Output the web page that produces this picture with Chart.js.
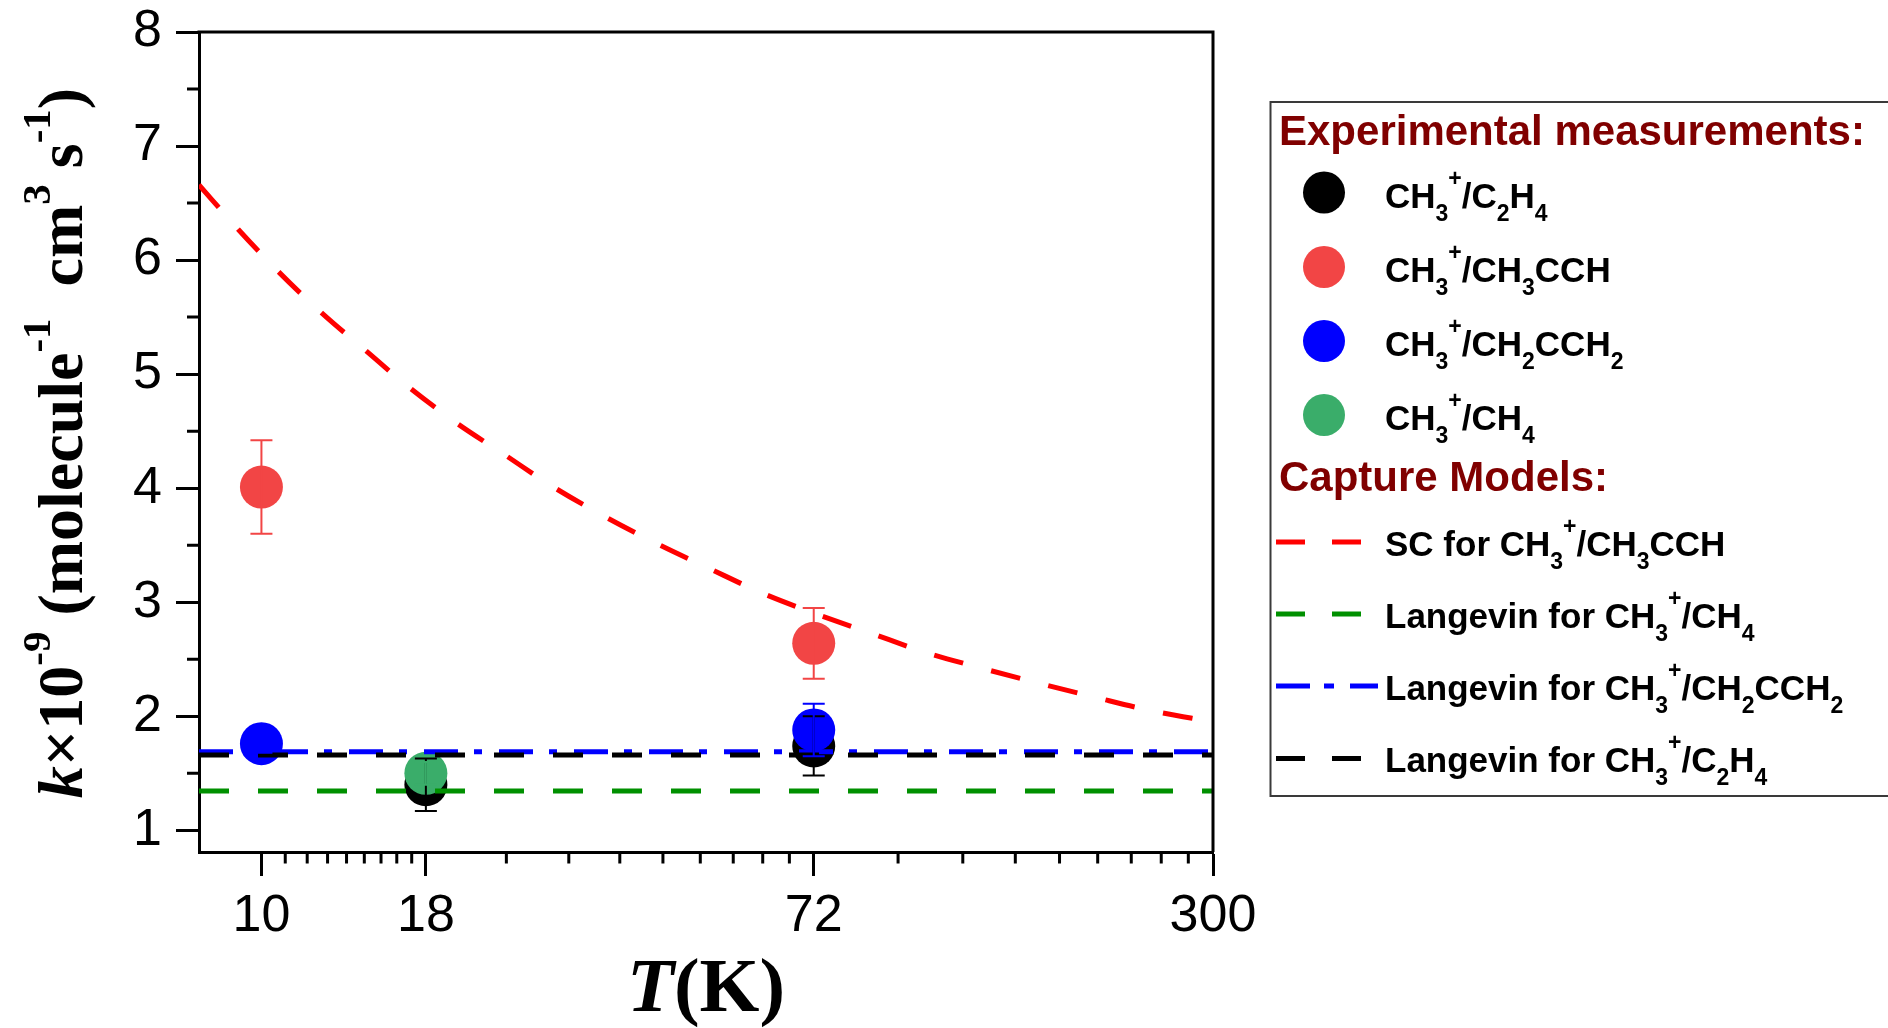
<!DOCTYPE html>
<html>
<head>
<meta charset="utf-8">
<script src="https://cdn.jsdelivr.net/npm/chart.js@4.4.0/dist/chart.umd.min.js"></script>
<style>
  html, body { margin: 0; padding: 0; background: #fff; overflow: hidden; }
  canvas { display: block; }
</style>
</head>
<body>
<canvas id="c" width="1888" height="1028"></canvas>
<script>
// Rate coefficients k (units of 1e-9 cm^3 molecule^-1 s^-1) versus temperature T (K)
const tC2H4 = [18, 72];
const kC2H4 = [1.40, 1.74];
const eC2H4 = [0.23, 0.26];

const tCH3CCH = [10, 72];
const kCH3CCH = [4.01, 2.64];
const eCH3CCH = [0.41, 0.31];

const tCH2CCH2 = [10, 72];
const kCH2CCH2 = [1.76, 1.88];
const eCH2CCH2 = [0.08, 0.23];

const tCH4 = [18];
const kCH4 = [1.50];
const eCH4 = [0.10];

// Capture-model predictions
const tSC = [8, 9.2, 10.62, 12.33, 14.49, 16.9, 20.1, 23.9, 28.4, 33.9, 40.9, 49.4, 59.9, 72.4, 88.2, 107.4, 131.6, 160.9, 195.8, 240, 300];
const kSC = [6.66, 6.27, 5.90, 5.55, 5.21, 4.89, 4.57, 4.29, 4.01, 3.76, 3.52, 3.30, 3.08, 2.90, 2.73, 2.56, 2.42, 2.29, 2.17, 2.05, 1.95];
const tLangevin = [8, 300];
const kLangCH4 = [1.345, 1.345];
const kLangCH2CCH2 = [1.69, 1.69];
const kLangC2H4 = [1.66, 1.66];

// Axis ticks
const xMajorTicks = [10, 18, 72, 300];
const xMinorPerInterval = 8;
const yMajorTicks = [1, 2, 3, 4, 5, 6, 7, 8];
const yMinorTicks = [1.5, 2.5, 3.5, 4.5, 5.5, 6.5, 7.5];

// Legend labels as rich-text segments (n = normal, sub, sup)
const expLabels = [
  [['CH','n'],['3','sub'],['+','sup'],['/C','n'],['2','sub'],['H','n'],['4','sub']],
  [['CH','n'],['3','sub'],['+','sup'],['/CH','n'],['3','sub'],['CCH','n']],
  [['CH','n'],['3','sub'],['+','sup'],['/CH','n'],['2','sub'],['CCH','n'],['2','sub']],
  [['CH','n'],['3','sub'],['+','sup'],['/CH','n'],['4','sub']]
];
const modelLabels = [
  [['SC for CH','n'],['3','sub'],['+','sup'],['/CH','n'],['3','sub'],['CCH','n']],
  [['Langevin for CH','n'],['3','sub'],['+','sup'],['/CH','n'],['4','sub']],
  [['Langevin for CH','n'],['3','sub'],['+','sup'],['/CH','n'],['2','sub'],['CCH','n'],['2','sub']],
  [['Langevin for CH','n'],['3','sub'],['+','sup'],['/C','n'],['2','sub'],['H','n'],['4','sub']]
];

const COL = {
  black: '#000000',
  red: '#F24545',
  blue: '#0000FF',
  green: '#3AAD6A',
  redLine: '#FF0000',
  greenLine: '#009000',
  blueLine: '#0000FF',
  blackLine: '#000000'
};

const pts = (xs, ys) => xs.map((x, i) => ({ x, y: ys[i] }));

const SANS = '"Liberation Sans", Arial, sans-serif';
const SERIF = '"Liberation Serif", "Times New Roman", serif';

const DASH = [30, 29];
const DASHDOT = [34, 16, 8, 17];

const datasets = [
  { label: 'SC for CH3+/CH3CCH', data: pts(tSC, kSC), showLine: true, borderColor: COL.redLine,
    borderWidth: 5, borderDash: DASH, pointRadius: 0, cubicInterpolationMode: 'monotone', order: 1 },
  { label: 'Langevin for CH3+/CH4', data: pts(tLangevin, kLangCH4), showLine: true, borderColor: COL.greenLine,
    borderWidth: 5, borderDash: DASH, pointRadius: 0, order: 1 },
  { label: 'Langevin for CH3+/CH2CCH2', data: pts(tLangevin, kLangCH2CCH2), showLine: true, borderColor: COL.blueLine,
    borderWidth: 5, borderDash: DASHDOT, pointRadius: 0, order: 1 },
  { label: 'Langevin for CH3+/C2H4', data: pts(tLangevin, kLangC2H4), showLine: true, borderColor: COL.blackLine,
    borderWidth: 5, borderDash: DASH, pointRadius: 0, order: 0 },
  { label: 'CH3+/C2H4', data: pts(tC2H4, kC2H4), errors: eC2H4, errColor: COL.black,
    backgroundColor: COL.black, borderWidth: 0, pointRadius: 21.5, order: 5 },
  { label: 'CH3+/CH3CCH', data: pts(tCH3CCH, kCH3CCH), errors: eCH3CCH, errColor: COL.red,
    backgroundColor: COL.red, borderWidth: 0, pointRadius: 21.5, order: 4 },
  { label: 'CH3+/CH2CCH2', data: pts(tCH2CCH2, kCH2CCH2), errors: eCH2CCH2, errColor: COL.blue,
    backgroundColor: COL.blue, borderWidth: 0, pointRadius: 21.5, order: 3 },
  { label: 'CH3+/CH4', data: pts(tCH4, kCH4), errors: eCH4, errColor: COL.green,
    backgroundColor: COL.green, borderWidth: 0, pointRadius: 21.5, order: 2 }
];

// Draws a run of text segments with sub/superscripts; returns total width
function richText(ctx, segs, x, y, st, measureOnly) {
  let cx = x;
  for (const [txt, kind] of segs) {
    let size = st.size, dy = 0, style = st.style || '';
    if (kind === 'sub') { size = st.subSize; dy = st.subShift; }
    if (kind === 'sup') { size = st.supSize; dy = -st.supShift; }
    if (kind === 'it') { style = 'italic'; }
    ctx.font = `${style} ${st.weight} ${size}px ${st.family}`;
    if (!measureOnly) ctx.fillText(txt, cx, y + dy);
    cx += ctx.measureText(txt).width;
  }
  return cx - x;
}

const errorBars = {
  id: 'errorBars',
  afterDatasetsDraw(chart) {
    const ctx = chart.ctx, ys = chart.scales.y;
    chart.data.datasets.forEach((ds, i) => {
      if (!ds.errors) return;
      const meta = chart.getDatasetMeta(i);
      ctx.save();
      ctx.strokeStyle = ds.errColor;
      ctx.lineWidth = 2;
      meta.data.forEach((el, j) => {
        const v = ds.data[j].y, e = ds.errors[j];
        const yt = ys.getPixelForValue(v + e), yb = ys.getPixelForValue(v - e);
        const x = el.x, hw = 11;
        ctx.beginPath();
        ctx.moveTo(x, yt); ctx.lineTo(x, yb);
        ctx.moveTo(x - hw, yt); ctx.lineTo(x + hw, yt);
        ctx.moveTo(x - hw, yb); ctx.lineTo(x + hw, yb);
        ctx.stroke();
      });
      ctx.restore();
    });
  }
};

const frameAndDecor = {
  id: 'frameAndDecor',
  afterDraw(chart) {
    const ctx = chart.ctx, a = chart.chartArea;
    const xs = chart.scales.x, ys = chart.scales.y;
    ctx.save();
    ctx.strokeStyle = '#000';
    ctx.lineWidth = 3;
    ctx.lineCap = 'butt';
    // top and right frame
    ctx.beginPath();
    ctx.moveTo(a.left - 1.5, a.top); ctx.lineTo(a.right + 1.5, a.top);
    ctx.moveTo(a.right, a.top); ctx.lineTo(a.right, a.bottom);
    ctx.stroke();
    // minor ticks
    ctx.beginPath();
    for (let m = 0; m < xMajorTicks.length - 1; m++) {
      const lo = xMajorTicks[m], hi = xMajorTicks[m + 1];
      for (let j = 1; j <= xMinorPerInterval; j++) {
        const px = xs.getPixelForValue(lo + (hi - lo) * j / (xMinorPerInterval + 1));
        ctx.moveTo(px, a.bottom); ctx.lineTo(px, a.bottom + 11.5);
      }
    }
    yMinorTicks.forEach(v => {
      const py = ys.getPixelForValue(v);
      ctx.moveTo(a.left, py); ctx.lineTo(a.left - 12, py);
    });
    ctx.stroke();

    // axis titles
    ctx.fillStyle = '#000';
    ctx.textBaseline = 'alphabetic';
    const ySt = { size: 64, supSize: 41, supShift: 32, subSize: 41, subShift: 10, weight: 'bold', family: SERIF };
    const ySegs = [['k','it'],['\u00D7','n'],['10','n'],['-9','sup'],[' (molecule','n'],['-1','sup'],['  cm','n'],['3','sup'],[' s','n'],['-1','sup'],[')','n']];
    const yw = richText(ctx, ySegs, 0, 0, ySt, true);
    ctx.save();
    ctx.translate(82, 443);
    ctx.rotate(-Math.PI / 2);
    richText(ctx, ySegs, -yw / 2, 0, ySt, false);
    ctx.restore();

    const xSt = { size: 77, weight: 'bold', family: SERIF };
    const xSegs = [['T','it'],['(K)','n']];
    const xw = richText(ctx, xSegs, 0, 0, xSt, true);
    richText(ctx, xSegs, (a.left + a.right) / 2 - xw / 2, 1011, xSt, false);

    // legend box
    ctx.lineWidth = 2;
    ctx.strokeStyle = '#3a3a3a';
    ctx.strokeRect(1270.5, 102, 700, 694);

    ctx.fillStyle = '#800000';
    ctx.font = `bold 42px ${SANS}`;
    ctx.fillText('Experimental measurements:', 1279, 145);
    ctx.fillText('Capture Models:', 1279, 491);

    const lSt = { size: 35, subSize: 23, subShift: 13, supSize: 23, supShift: 22, weight: 'bold', family: SANS };
    const expRows = [192.5, 267, 341, 415];
    const expDs = [4, 5, 6, 7];
    expRows.forEach((ry, i) => {
      const ds = chart.data.datasets[expDs[i]];
      ctx.fillStyle = ds.backgroundColor;
      ctx.beginPath();
      ctx.arc(1324, ry, 21, 0, Math.PI * 2);
      ctx.fill();
      ctx.fillStyle = '#000';
      richText(ctx, expLabels[i], 1385, ry + 15, lSt, false);
    });

    const modRows = [542, 614, 686, 758.5];
    const modDash = [[29, 27], [29, 27], [34, 14, 10, 16], [29, 27]];
    const modEnd = [1361, 1361, 1378, 1361];
    modRows.forEach((ry, i) => {
      const ds = chart.data.datasets[i];
      ctx.strokeStyle = ds.borderColor;
      ctx.lineWidth = 5;
      ctx.setLineDash(modDash[i]);
      ctx.beginPath();
      ctx.moveTo(1276, ry); ctx.lineTo(modEnd[i], ry);
      ctx.stroke();
      ctx.setLineDash([]);
      ctx.fillStyle = '#000';
      richText(ctx, modelLabels[i], 1385, ry + 13.5, lSt, false);
    });
    ctx.restore();
  }
};

new Chart(document.getElementById('c'), {
  type: 'scatter',
  data: { datasets },
  options: {
    responsive: false,
    animation: false,
    devicePixelRatio: 1,
    layout: { autoPadding: false, padding: { left: 0, top: 32, right: 675, bottom: 0 } },
    plugins: { legend: { display: false }, tooltip: { enabled: false } },
    elements: { line: { tension: 0 } },
    scales: {
      x: {
        type: 'logarithmic',
        position: 'bottom',
        min: 8, max: 300,
        afterBuildTicks: ax => { ax.ticks = xMajorTicks.map(v => ({ value: v, major: true })); },
        afterFit: ax => { ax.height = 176; },
        ticks: { autoSkip: false, maxRotation: 0, padding: 9, color: '#000',
                 font: { family: SANS, size: 52 }, callback: v => String(v) },
        grid: { display: true, drawOnChartArea: false, drawTicks: true, tickLength: 24, tickWidth: 3, tickColor: '#000' },
        border: { display: true, width: 3, color: '#000' }
      },
      y: {
        type: 'linear',
        position: 'left',
        min: 0.81, max: 8,
        afterBuildTicks: ax => { ax.ticks = yMajorTicks.map(v => ({ value: v })); },
        afterFit: ax => { ax.width = 199; ax.paddingTop = 0; ax.paddingBottom = 0; },
        ticks: { padding: 14, color: '#000', font: { family: SANS, size: 52, lineHeight: 0.1 }, callback: v => String(v) },
        grid: { display: true, drawOnChartArea: false, drawTicks: true, tickLength: 23, tickWidth: 3, tickColor: '#000' },
        border: { display: true, width: 3, color: '#000' }
      }
    }
  },
  plugins: [errorBars, frameAndDecor]
});
</script>
</body>
</html>
